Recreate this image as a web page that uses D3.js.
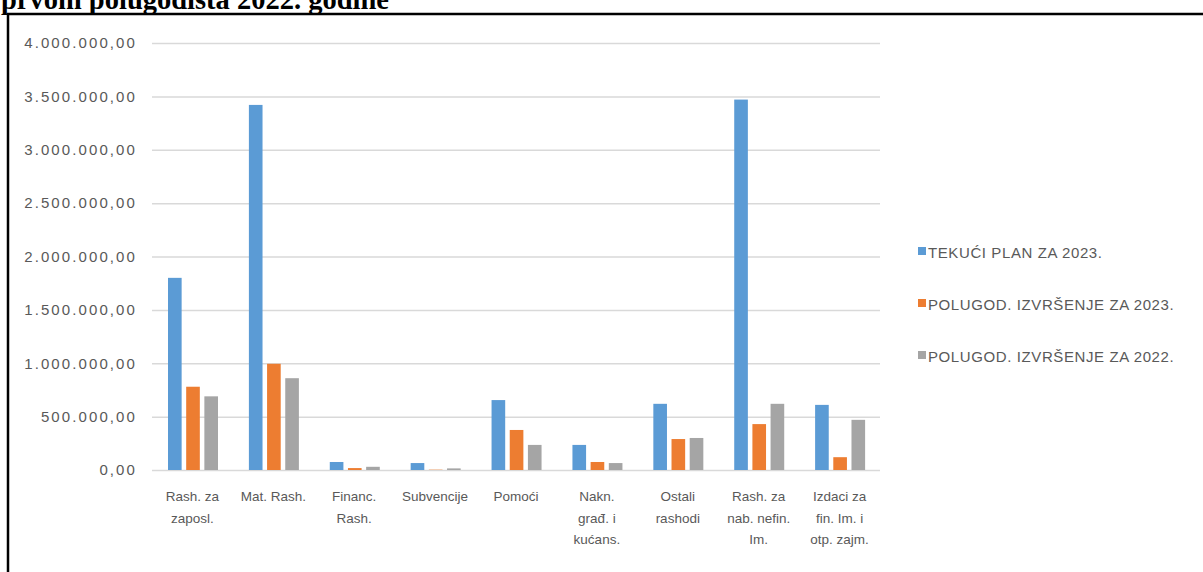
<!DOCTYPE html>
<html><head><meta charset="utf-8">
<script src="https://cdn.jsdelivr.net/npm/d3@7"></script>
<style>
html,body{margin:0;padding:0;background:#fff;overflow:hidden}
svg{display:block}
</style></head>
<body>
<svg id="c" width="1203" height="572"></svg>
<script>
const categories = [
  ["Rash. za","zaposl."],
  ["Mat. Rash."],
  ["Financ.","Rash."],
  ["Subvencije"],
  ["Pomoći"],
  ["Nakn.","građ. i","kućans."],
  ["Ostali","rashodi"],
  ["Rash. za","nab. nefin.","Im."],
  ["Izdaci za","fin. Im. i","otp. zajm."]
];
const seriesNames = ["TEKUĆI PLAN ZA 2023.","POLUGOD. IZVRŠENJE ZA 2023.","POLUGOD. IZVRŠENJE ZA 2022."];
const tekuciPlan2023 = [1800000,3420000,75000,65000,655000,235000,620000,3470000,610000];
const izvrsenje2023 = [780000,995000,18000,3000,375000,75000,290000,430000,120000];
const izvrsenje2022 = [690000,860000,30000,15000,235000,65000,300000,620000,470000];
const yTicks = [0,500000,1000000,1500000,2000000,2500000,3000000,3500000,4000000];
const colors = ["#5b9bd5","#ed7d31","#a5a5a5"];
const title = "prvom polugodišta 2022. godine";

const series = [tekuciPlan2023, izvrsenje2023, izvrsenje2022];
const svg = d3.select("#c");

// title (cut off at top, as in the source)
svg.append("text").attr("x",1).attr("y",9)
  .attr("font-family","'Liberation Serif','Times New Roman',serif")
  .attr("font-weight","bold").attr("font-size",28.5).attr("fill","#000")
  .text(title);

// frame
svg.append("rect").attr("x",8).attr("y",14).attr("width",1300).attr("height",700)
  .attr("fill","#fff").attr("stroke","#000").attr("stroke-width",2.5);

const x0 = d3.scaleBand().domain(d3.range(categories.length)).range([152,880]).paddingInner(0).paddingOuter(0);
const x1 = d3.scaleBand().domain(d3.range(3)).range([16,66]).paddingInner(0.25);
const y = d3.scaleLinear().domain([0,4000000]).range([470,43]);

const fmt = v => {
  const s = d3.format(",.2f")(v);
  return s.replace(/,/g,"#").replace(".",",").replace(/#/g,".");
};

// gridlines
const yAxis = d3.axisLeft(y).tickValues(yTicks).tickSize(-(880-152)).tickFormat(fmt).tickPadding(15);
const ga = svg.append("g").attr("transform","translate(152,0)").call(yAxis);
ga.select(".domain").remove();
ga.selectAll(".tick line").attr("stroke","#d9d9d9").attr("stroke-width",1.5);
ga.selectAll(".tick text").attr("fill","#595959").attr("font-size",15)
  .attr("font-family","'Liberation Sans',Arial,sans-serif").attr("letter-spacing","2.1px");

// bars
categories.forEach((c,i)=>{
  series.forEach((s,j)=>{
    svg.append("rect")
      .attr("x", x0(i)+x1(j)).attr("width", x1.bandwidth())
      .attr("y", y(s[i])).attr("height", y(0)-y(s[i]))
      .attr("fill", colors[j]);
  });
});

// x labels
const xa = svg.append("g");
categories.forEach((lines,i)=>{
  const t = xa.append("text").attr("text-anchor","middle")
    .attr("font-family","'Liberation Sans',Arial,sans-serif").attr("font-size",13.5)
    .attr("fill","#595959");
  lines.forEach((l,k)=>{
    t.append("tspan").attr("x", x0(i)+x0.bandwidth()/2).attr("y", 501+k*21.5).text(l);
  });
});

// legend
const lg = svg.append("g");
seriesNames.forEach((n,j)=>{
  const yy = 252 + j*52;
  lg.append("rect").attr("x",918).attr("y",yy-5).attr("width",8).attr("height",8).attr("fill",colors[j]);
  lg.append("text").attr("x",928).attr("y",yy+5.5).attr("font-size",15)
    .attr("font-family","'Liberation Sans',Arial,sans-serif").attr("letter-spacing","0.6px")
    .attr("fill","#595959").text(n);
});
</script>
</body></html>
